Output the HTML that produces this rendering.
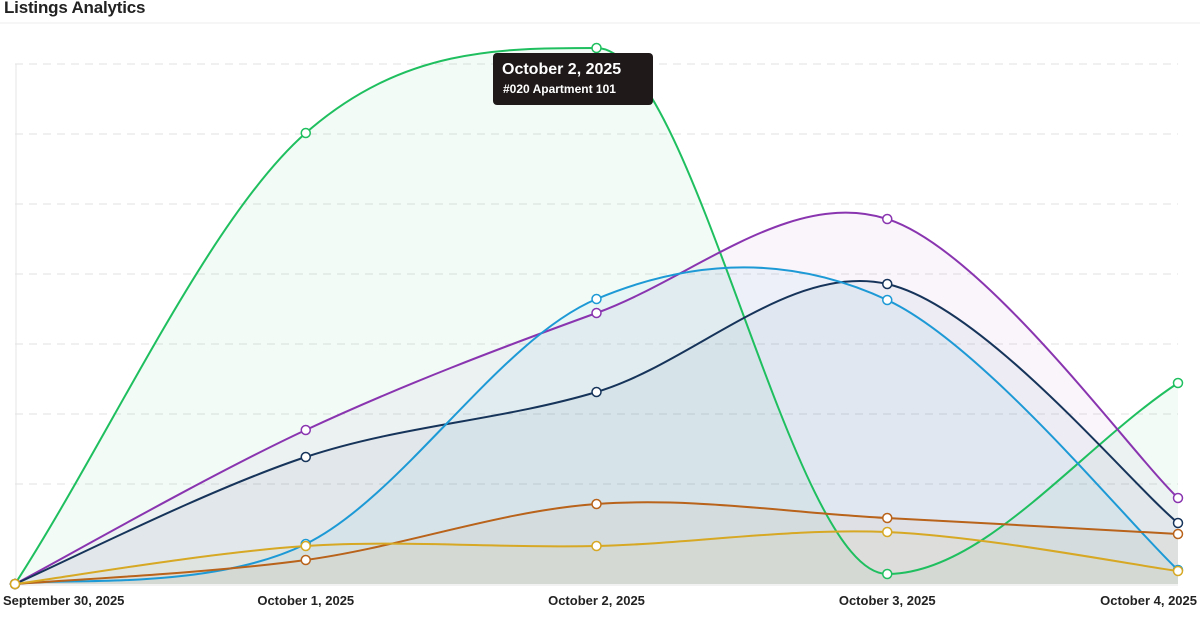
<!DOCTYPE html>
<html><head><meta charset="utf-8"><style>
body{margin:0;background:#fff;font-family:"Liberation Sans",sans-serif;}
#wrap{position:relative;width:1200px;height:617px;overflow:hidden;}
#title{position:absolute;left:4px;top:-2px;font-size:17px;font-weight:bold;color:#222;letter-spacing:-0.2px;}
#tip{position:absolute;left:493px;top:53px;width:160px;height:52px;background:#1f1a19;border-radius:4px;color:#fff;}
#tip .d{position:absolute;left:9px;top:8px;font-size:16px;font-weight:bold;}
#tip .s{position:absolute;left:10px;top:29px;font-size:12px;font-weight:bold;}
</style></head><body>
<div id="wrap">
<div id="title">Listings Analytics</div>
<svg id="chart" width="1200" height="617" style="position:absolute;left:0;top:0"></svg>
<div id="tip"><div class="d">October 2, 2025</div><div class="s">#020 Apartment 101</div></div>
</div>
<script>
const categories=["September 30, 2025","October 1, 2025","October 2, 2025","October 3, 2025","October 4, 2025"];
const seriesNames=["green","purple","navy","blue","orange","yellow"];
const colors=["#1fbf5f","#8a35b0","#16345a","#1d9ad6","#b8621a","#d6a823"];
const green=[0,45.1,53.6,1.0,20.1];
const purple=[0,15.4,27.1,36.5,8.6];
const navy=[0,12.7,19.2,30.0,6.1];
const blue=[0,4.0,28.5,28.4,1.4];
const orange=[0,2.4,8.0,6.6,5.0];
const yellow=[0,3.8,3.8,5.2,1.3];
const gridTicks=[10,17,24,31,38,45,52];
const series=[green,purple,navy,blue,orange,yellow];
const X0=15,X1=1178,Y0=584,YMAX=56,YTOP=24;
const xS=i=>X0+(X1-X0)*i/(categories.length-1);
const yS=v=>Y0-(Y0-YTOP)*v/YMAX;
const svg=document.getElementById('chart');
const NS="http://www.w3.org/2000/svg";
function mk(t,a){const e=document.createElementNS(NS,t);for(const k in a)e.setAttribute(k,a[k]);svg.appendChild(e);return e;}
let l=mk('line',{x1:0,x2:1200,y1:23,y2:23,stroke:'#ececec'});


gridTicks.forEach(t=>{const y=yS(t);
 const g=mk('line',{x1:X0,x2:1178,y1:y,y2:y,stroke:'#e2e2e2','stroke-dasharray':'8,6'});
 
 });
const ax=mk('line',{x1:16,x2:16,y1:64,y2:Y0,stroke:'#e4e4e4'});


const bl=mk('line',{x1:X0,x2:X1,y1:Y0+1,y2:Y0+1,stroke:'#e4e4e4'});


function pathD(pts){let d=`M${pts[0][0]},${pts[0][1]}`;
 for(let i=0;i<pts.length-1;i++){const p0=pts[i-1]||pts[i],p1=pts[i],p2=pts[i+1],p3=pts[i+2]||p2;
  const c1=[p1[0]+(p2[0]-p0[0])/6,p1[1]+(p2[1]-p0[1])/6],c2=[p2[0]-(p3[0]-p1[0])/6,p2[1]-(p3[1]-p1[1])/6];
  d+=`C${c1[0]},${c1[1]} ${c2[0]},${c2[1]} ${p2[0]},${p2[1]}`;}return d;}
function monoD(pts){const n=pts.length,m=[],s=[];
 for(let i=0;i<n-1;i++)s.push((pts[i+1][1]-pts[i][1])/(pts[i+1][0]-pts[i][0]));
 for(let i=0;i<n;i++){if(i===0)m.push(s[0]);else if(i===n-1)m.push(s[n-2]);
  else m.push(s[i-1]*s[i]<=0?0:(s[i-1]+s[i])/2);}
 for(let i=0;i<n-1;i++){if(s[i]===0){m[i]=0;m[i+1]=0;continue;}
  const a=m[i]/s[i],b=m[i+1]/s[i],h=a*a+b*b;if(h>9){const t=3/Math.sqrt(h);m[i]=t*a*s[i];m[i+1]=t*b*s[i];}}
 let d=`M${pts[0][0]},${pts[0][1]}`;
 for(let i=0;i<n-1;i++){const dx=(pts[i+1][0]-pts[i][0])/3;
  d+=`C${pts[i][0]+dx},${pts[i][1]+m[i]*dx} ${pts[i+1][0]-dx},${pts[i+1][1]-m[i+1]*dx} ${pts[i+1][0]},${pts[i+1][1]}`;}
 return d;}
const curve=(k,pts)=>k===0?monoD(pts):pathD(pts);
series.forEach((s,k)=>{const pts=s.map((v,i)=>[xS(i),yS(v)]);const d=curve(k,pts);
 const a=mk('path',{d:d+`L${X1},${Y0}L${X0},${Y0}Z`,fill:colors[k],'fill-opacity':k===0?0.06:0.05,stroke:'none'});
 
 });
series.forEach((s,k)=>{const pts=s.map((v,i)=>[xS(i),yS(v)]);
 const p=mk('path',{d:curve(k,pts),fill:'none',stroke:colors[k],'stroke-width':2});
 
 
 pts.forEach(q=>{const c=mk('circle',{cx:q[0],cy:q[1],r:4.5,fill:'#fff',stroke:colors[k],'stroke-width':1.5});
  
  });});
categories.forEach((c,i)=>{const last=i===categories.length-1;
 const t=mk('text',{x:i===0?3:(last?1197:xS(i)),y:605,'font-size':13,'font-weight':'bold',fill:'#222','text-anchor':i===0?'start':(last?'end':'middle'),'font-family':'Liberation Sans, sans-serif'});
 t.textContent=c;
 
 });
</script>
</body></html>
